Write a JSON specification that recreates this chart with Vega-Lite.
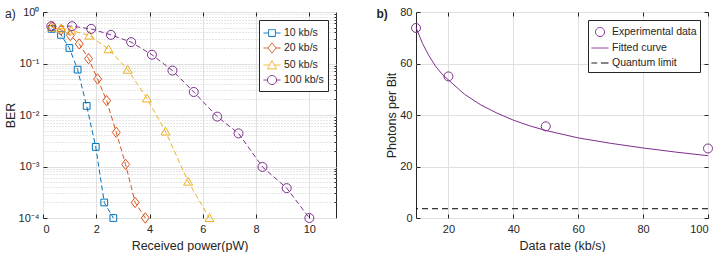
{
  "$schema": "https://vega.github.io/schema/vega-lite/v6.json",
  "background": "white",
  "padding": {"left": 3, "top": 5, "right": 0, "bottom": 0},
  "spacing": 39,
  "resolve": {"scale": {"color": "independent"}, "legend": {"color": "independent"}},
  "config": {
    "font": "Liberation Sans",
    "view": {"stroke": "#262626", "strokeWidth": 1},
    "axis": {
      "labelFont": "Liberation Sans", "titleFont": "Liberation Sans",
      "labelFontSize": 11, "titleFontSize": 12.5, "titleFontWeight": "normal",
      "labelColor": "#262626", "titleColor": "#262626",
      "domain": false, "tickColor": "#262626", "gridColor": "#e0e0e0", "gridWidth": 1
    },
    "legend": {"labelFont": "Liberation Sans", "labelFontSize": 10.5, "labelColor": "#262626"},
    "title": {"font": "Liberation Sans", "color": "#262626"}
  },
  "datasets": {
    "ber": [
      {"rate": "10 kb/s", "power": 0.33, "ber": 0.47},
      {"rate": "10 kb/s", "power": 0.675, "ber": 0.36},
      {"rate": "10 kb/s", "power": 0.99, "ber": 0.2},
      {"rate": "10 kb/s", "power": 1.3, "ber": 0.076},
      {"rate": "10 kb/s", "power": 1.64, "ber": 0.015},
      {"rate": "10 kb/s", "power": 1.98, "ber": 0.0024},
      {"rate": "10 kb/s", "power": 2.3, "ber": 0.0002},
      {"rate": "10 kb/s", "power": 2.64, "ber": 0.0001},
      {"rate": "20 kb/s", "power": 0.33, "ber": 0.52},
      {"rate": "20 kb/s", "power": 0.68, "ber": 0.45},
      {"rate": "20 kb/s", "power": 1.025, "ber": 0.35},
      {"rate": "20 kb/s", "power": 1.36, "ber": 0.24},
      {"rate": "20 kb/s", "power": 1.71, "ber": 0.124},
      {"rate": "20 kb/s", "power": 2.05, "ber": 0.05},
      {"rate": "20 kb/s", "power": 2.39, "ber": 0.019},
      {"rate": "20 kb/s", "power": 2.75, "ber": 0.0046},
      {"rate": "20 kb/s", "power": 3.1, "ber": 0.0011},
      {"rate": "20 kb/s", "power": 3.46, "ber": 0.0002},
      {"rate": "20 kb/s", "power": 3.84, "ber": 0.0001},
      {"rate": "50 kb/s", "power": 0.33, "ber": 0.5},
      {"rate": "50 kb/s", "power": 0.69, "ber": 0.48},
      {"rate": "50 kb/s", "power": 1.06, "ber": 0.44},
      {"rate": "50 kb/s", "power": 1.74, "ber": 0.35},
      {"rate": "50 kb/s", "power": 2.46, "ber": 0.19},
      {"rate": "50 kb/s", "power": 3.18, "ber": 0.076},
      {"rate": "50 kb/s", "power": 3.9, "ber": 0.021},
      {"rate": "50 kb/s", "power": 4.6, "ber": 0.0048},
      {"rate": "50 kb/s", "power": 5.45, "ber": 0.00051},
      {"rate": "50 kb/s", "power": 6.25, "ber": 0.0001},
      {"rate": "100 kb/s", "power": 0.31, "ber": 0.53},
      {"rate": "100 kb/s", "power": 1.09, "ber": 0.53},
      {"rate": "100 kb/s", "power": 1.81, "ber": 0.47},
      {"rate": "100 kb/s", "power": 2.55, "ber": 0.36},
      {"rate": "100 kb/s", "power": 3.31, "ber": 0.26},
      {"rate": "100 kb/s", "power": 4.09, "ber": 0.148},
      {"rate": "100 kb/s", "power": 4.86, "ber": 0.073},
      {"rate": "100 kb/s", "power": 5.66, "ber": 0.028},
      {"rate": "100 kb/s", "power": 6.54, "ber": 0.0093},
      {"rate": "100 kb/s", "power": 7.34, "ber": 0.0044},
      {"rate": "100 kb/s", "power": 8.24, "ber": 0.00098},
      {"rate": "100 kb/s", "power": 9.15, "ber": 0.00038},
      {"rate": "100 kb/s", "power": 10.0, "ber": 0.0001}
    ],
    "exp": [
      {"series": "Experimental data", "rate": 10, "photons": 73.8},
      {"series": "Experimental data", "rate": 20, "photons": 55.0},
      {"series": "Experimental data", "rate": 50, "photons": 35.6},
      {"series": "Experimental data", "rate": 100, "photons": 27.0}
    ],
    "fit": [
      {"series": "Fitted curve", "rate": 10, "photons": 74.0},
      {"series": "Fitted curve", "rate": 12, "photons": 67.8},
      {"series": "Fitted curve", "rate": 14, "photons": 63.0},
      {"series": "Fitted curve", "rate": 16, "photons": 59.0},
      {"series": "Fitted curve", "rate": 18, "photons": 55.9},
      {"series": "Fitted curve", "rate": 20, "photons": 53.6},
      {"series": "Fitted curve", "rate": 25, "photons": 48.0},
      {"series": "Fitted curve", "rate": 30, "photons": 43.9},
      {"series": "Fitted curve", "rate": 35, "photons": 40.7},
      {"series": "Fitted curve", "rate": 40, "photons": 38.0},
      {"series": "Fitted curve", "rate": 45, "photons": 35.8},
      {"series": "Fitted curve", "rate": 50, "photons": 34.0},
      {"series": "Fitted curve", "rate": 60, "photons": 31.1},
      {"series": "Fitted curve", "rate": 70, "photons": 29.0},
      {"series": "Fitted curve", "rate": 80, "photons": 27.2},
      {"series": "Fitted curve", "rate": 90, "photons": 25.6},
      {"series": "Fitted curve", "rate": 100, "photons": 24.2}
    ],
    "ql": [
      {"series": "Quantum limit", "photons": 3.6}
    ]
  },
  "hconcat": [
    {
      "width": 293,
      "height": 206,
      "title": {"text": "a)", "anchor": "start", "frame": "group", "offset": -23.5, "dx": -38, "baseline": "alphabetic", "fontSize": 12, "fontWeight": "normal"},
      "data": {"name": "ber"},
      "layer": [
        {
          "mark": {"type": "line", "strokeWidth": 1, "strokeDash": [5, 3]},
          "encoding": {
            "x": {"field": "power", "type": "quantitative", "scale": {"domain": [0, 11], "nice": false},
              "axis": {"values": [0, 2, 4, 6, 8, 10], "title": "Received power(pW)", "grid": true, "tickSize": -4, "labelPadding": 9, "titlePadding": 5}},
            "y": {"field": "ber", "type": "quantitative", "scale": {"type": "log", "domain": [0.0001, 1], "nice": false},
              "axis": {"values": [0.0001, 0.001, 0.01, 0.1, 1], "title": "BER", "grid": true, "tickSize": -4, "labelPadding": 8, "titlePadding": 1,
                "labelExpr": "datum.value >= 0.5 ? '10⁰' : datum.value >= 0.05 ? '10⁻¹' : datum.value >= 0.005 ? '10⁻²' : datum.value >= 0.0005 ? '10⁻³' : '10⁻⁴'"}},
            "color": {"field": "rate", "type": "nominal",
              "scale": {"domain": ["10 kb/s", "20 kb/s", "50 kb/s", "100 kb/s"], "range": ["#0072BD", "#D95319", "#EDB120", "#7E2F8E"]},
              "legend": {"title": null, "orient": "top-right", "offset": 8, "fillColor": "white", "strokeColor": "#262626", "padding": 4,
                "symbolSize": 289, "rowPadding": -3, "labelOffset": 3, "symbolStrokeWidth": 1, "symbolDash": [1, 0], "symbolFillColor": "transparent",
                "symbolType": {"expr": "datum.value === '10 kb/s' ? 'M-1,0H-0.4M0.4,0H1M-0.4,-0.4H0.4V0.4H-0.4Z' : datum.value === '20 kb/s' ? 'M-1,0H-0.47M0.47,0H1M0,-0.61L0.47,0L0,0.61L-0.47,0Z' : datum.value === '50 kb/s' ? 'M-1,0H-0.28M0.28,0H1M0,-0.5L0.53,0.45L-0.53,0.45Z' : 'M-1,0H-0.53M0.53,0H1M0.53,0A0.53,0.53 0 1,1 -0.53,0A0.53,0.53 0 1,1 0.53,0'"}}}
          }
        },
        {
          "transform": [{"filter": "datum.rate === '10 kb/s'"}],
          "mark": {"type": "point", "shape": "M-0.75,-0.75H0.75V0.75H-0.75Z", "filled": false, "strokeWidth": 1, "size": 81, "opacity": 1},
          "encoding": {
            "x": {"field": "power", "type": "quantitative",
              "axis": {"orient": "top", "values": [0, 2, 4, 6, 8, 10], "labels": false, "title": null, "grid": false, "tickSize": -4}},
            "y": {"field": "ber", "type": "quantitative",
              "axis": {"orient": "right", "values": [0.0002, 0.0003, 0.0004, 0.0005, 0.0006, 0.0007, 0.0008, 0.0009, 0.002, 0.003, 0.004, 0.005, 0.006, 0.007, 0.008, 0.009, 0.02, 0.03, 0.04, 0.05, 0.06, 0.07, 0.08, 0.09, 0.2, 0.3, 0.4, 0.5, 0.6, 0.7, 0.8, 0.9],
                "labels": false, "title": null, "grid": true, "gridDash": [1, 2], "gridColor": "#cccccc", "tickSize": -2}},
            "color": {"field": "rate", "type": "nominal"}
          }
        },
        {
          "transform": [{"filter": "datum.rate === '20 kb/s'"}],
          "mark": {"type": "point", "shape": "M0,-1.15L0.88,0L0,1.15L-0.88,0Z", "filled": false, "strokeWidth": 1, "size": 81, "opacity": 1},
          "encoding": {
            "x": {"field": "power", "type": "quantitative", "axis": null},
            "y": {"field": "ber", "type": "quantitative", "axis": null},
            "color": {"field": "rate", "type": "nominal"}
          }
        },
        {
          "transform": [{"filter": "datum.rate === '50 kb/s'"}],
          "mark": {"type": "point", "shape": "M0,-0.95L1,0.8L-1,0.8Z", "filled": false, "strokeWidth": 1, "size": 81, "opacity": 1},
          "encoding": {
            "x": {"field": "power", "type": "quantitative", "axis": null},
            "y": {"field": "ber", "type": "quantitative", "axis": null},
            "color": {"field": "rate", "type": "nominal"}
          }
        },
        {
          "transform": [{"filter": "datum.rate === '100 kb/s'"}],
          "mark": {"type": "point", "shape": "circle", "filled": false, "strokeWidth": 1, "size": 81, "opacity": 1},
          "encoding": {
            "x": {"field": "power", "type": "quantitative", "axis": null},
            "y": {"field": "ber", "type": "quantitative", "axis": null},
            "color": {"field": "rate", "type": "nominal"}
          }
        }
      ],
      "resolve": {"axis": {"x": "independent", "y": "independent"}}
    },
    {
      "width": 292,
      "height": 206,
      "title": {"text": "b)", "anchor": "start", "frame": "group", "offset": -23.5, "dx": -39.5, "baseline": "alphabetic", "fontSize": 12, "fontWeight": "bold"},
      "layer": [
        {
          "data": {"name": "exp"},
          "mark": {"type": "point", "filled": false, "strokeWidth": 1, "size": 81, "opacity": 1},
          "encoding": {
            "x": {"field": "rate", "type": "quantitative", "scale": {"domain": [10, 100], "nice": false},
              "axis": {"values": [20, 40, 60, 80, 100], "title": "Data rate (kb/s)", "grid": true, "tickSize": -4, "labelPadding": 9, "titlePadding": 5}},
            "y": {"field": "photons", "type": "quantitative", "scale": {"domain": [0, 80], "nice": false},
              "axis": {"values": [0, 20, 40, 60, 80], "title": "Photons per Bit", "grid": true, "tickSize": -4, "labelPadding": 8, "titlePadding": 1}},
            "color": {"field": "series", "type": "nominal",
              "scale": {"domain": ["Experimental data", "Fitted curve", "Quantum limit"], "range": ["#7E2F8E", "#7E2F8E", "#000000"]},
              "legend": {"title": null, "orient": "top-right", "offset": 8, "fillColor": "white", "strokeColor": "#262626", "padding": 3,
                "symbolSize": 289, "rowPadding": -3, "labelOffset": 3, "symbolStrokeWidth": 1, "symbolDash": [1, 0], "symbolFillColor": "transparent",
                "symbolType": {"expr": "datum.value === 'Experimental data' ? 'M0.53,0A0.53,0.53 0 1,1 -0.53,0A0.53,0.53 0 1,1 0.53,0' : datum.value === 'Fitted curve' ? 'M-1,0H1' : 'M-1,0H-0.33M0.11,0H1'"}}}
          }
        },
        {
          "data": {"name": "fit"},
          "mark": {"type": "line", "strokeWidth": 1},
          "encoding": {
            "x": {"field": "rate", "type": "quantitative",
              "axis": {"orient": "top", "values": [20, 40, 60, 80, 100], "labels": false, "title": null, "grid": false, "tickSize": -4}},
            "y": {"field": "photons", "type": "quantitative",
              "axis": {"orient": "right", "values": [0, 20, 40, 60, 80], "labels": false, "title": null, "grid": false, "tickSize": -4}},
            "color": {"field": "series", "type": "nominal"}
          }
        },
        {
          "data": {"name": "ql"},
          "mark": {"type": "rule", "strokeWidth": 1, "strokeDash": [6, 4]},
          "encoding": {
            "y": {"field": "photons", "type": "quantitative", "axis": null},
            "color": {"field": "series", "type": "nominal"}
          }
        }
      ],
      "resolve": {"axis": {"x": "independent", "y": "independent"}}
    }
  ]
}
